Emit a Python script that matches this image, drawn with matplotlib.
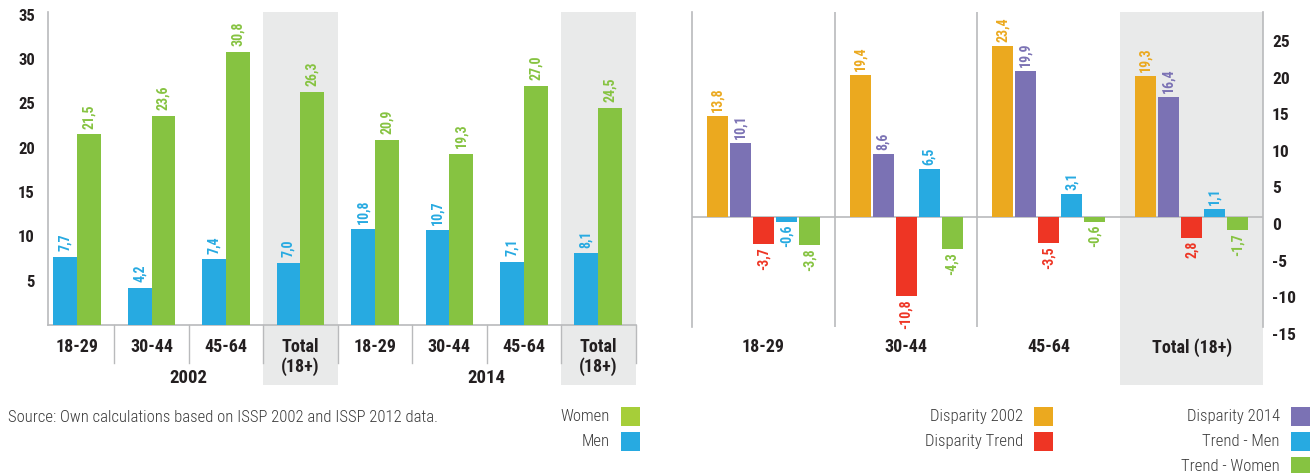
import numpy as np
import matplotlib
matplotlib.use("Agg")
import matplotlib.pyplot as plt
from matplotlib.patches import Rectangle
from matplotlib.transforms import blended_transform_factory, ScaledTranslation

plt.rcParams['font.family'] = ['Roboto Condensed', 'DejaVu Sans']

# ---- left panel: share by age group, 2002 vs 2014 ----
age_groups = ["18-29", "30-44", "45-64", "Total\n(18+)"]
years = ["2002", "2014"]
men_2002 = [7.7, 4.2, 7.4, 7.0]
women_2002 = [21.5, 23.6, 30.8, 26.3]
men_2014 = [10.8, 10.7, 7.1, 8.1]
women_2014 = [20.9, 19.3, 27.0, 24.5]
left_ticks = [5, 10, 15, 20, 25, 30, 35]

# ---- right panel: disparities and trends ----
disp_groups = ["18-29", "30-44", "45-64", "Total (18+)"]
disparity_2002 = [13.8, 19.4, 23.4, 19.3]
disparity_2014 = [10.1, 8.6, 19.9, 16.4]
disparity_trend = [-3.7, -10.8, -3.5, -2.8]
disparity_trend_labels = ["-3,7", "-10,8", "-3,5", "2,8"]
trend_men = [-0.6, 6.5, 3.1, 1.1]
trend_women = [-3.8, -4.3, -0.6, -1.7]
right_ticks = [-15, -10, -5, 0, 5, 10, 15, 20, 25]

source_text = "Source: Own calculations based on ISSP 2002 and ISSP 2012 data."

BLUE = "#27AAE1"
GREEN = "#86C341"
WOMEN_KEY = "#A6CE39"
ORANGE = "#EBA91F"
PURPLE = "#7B72B4"
RED = "#EE3524"
SHADE = "#E9EAEA"
LINE = "#B9BABC"
INK = "#231F20"
SOFT = "#3A3A3A"

W, H = 1311, 473
fig = plt.figure(figsize=(W / 100, H / 100), dpi=100)


def axes_px(x0, x1, ytop, ybot):
    return fig.add_axes([x0 / W, 1 - ybot / H, (x1 - x0) / W, (ybot - ytop) / H])


def fmt(v):
    return f"{v:.1f}".replace(".", ",")


def value_label(ax, x, v, text, color, up_pad=4.0, down_pad=2.5):
    if v >= 0:
        ax.annotate(text, xy=(x, v), xytext=(0, up_pad), textcoords="offset points",
                    rotation=90, ha="center", va="bottom", color=color,
                    fontsize=10, fontweight="bold")
    else:
        ax.annotate(text, xy=(x, v), xytext=(0, -down_pad), textcoords="offset points",
                    rotation=90, ha="center", va="top", color=color,
                    fontsize=10, fontweight="bold")


# ================= left panel =================
ax1 = axes_px(48, 635.5, 12, 325)
ax1.set_facecolor("none")
men = men_2002 + men_2014
women = women_2002 + women_2014
labels_x = age_groups + age_groups
x = np.arange(len(men))
bw = 0.32
ax1.set_xlim(-0.39, 7.5)
ax1.set_ylim(0, 35.3)
bt1 = blended_transform_factory(ax1.transData, ax1.transAxes)
below1 = 60 / 313

for xi in (3, 7):
    ax1.add_patch(Rectangle((xi - 0.5, -below1), 1, 1 + below1, transform=bt1,
                            facecolor=SHADE, edgecolor="none", zorder=0, clip_on=False))

ax1.bar(x - bw / 2, men, bw, color=BLUE, zorder=3)
ax1.bar(x + bw / 2, women, bw, color=GREEN, zorder=3)
for xi, m, w in zip(x, men, women):
    value_label(ax1, xi - bw / 2, m, fmt(m), BLUE)
    value_label(ax1, xi + bw / 2, w, fmt(w), GREEN)

for b in np.arange(0.5, 8, 1):
    ax1.plot([b, b], [0, -38 / 313], transform=bt1, color=LINE, lw=1, clip_on=False)

for xi, lab in zip(x, labels_x):
    ax1.annotate(lab, xy=(xi, 0), xycoords=bt1, xytext=(0, -9), textcoords="offset points",
                 ha="center", va="top", fontsize=13, fontweight="bold", color=INK,
                 linespacing=1.1)
for xc, yr in zip((1.5, 5.5), years):
    ax1.annotate(yr, xy=(xc, 0), xycoords=bt1, xytext=(0, -38), textcoords="offset points",
                 ha="center", va="center", fontsize=13.5, fontweight="bold", color=INK)

ax1.set_xticks([])
ax1.set_yticks(left_ticks)
ax1.set_yticklabels([str(t) for t in left_ticks])
ax1.tick_params(axis="y", length=0, pad=9.5, labelsize=12, labelcolor=INK)
for lab in ax1.get_yticklabels():
    lab.set_fontweight("bold")
for s in ("top", "right"):
    ax1.spines[s].set_visible(False)
for s in ("left", "bottom"):
    ax1.spines[s].set_color(LINE)
    ax1.spines[s].set_linewidth(1.2)

# ================= right panel =================
ax2 = axes_px(692, 1263, 12, 327)
ax2.set_facecolor("none")
ax2.set_xlim(-0.5, 3.5)
ax2.set_ylim(-15, 28)
bt2 = blended_transform_factory(ax2.transData, ax2.transAxes)
below2 = 58 / 315
ax2.add_patch(Rectangle((2.5, -below2), 1, 1 + below2, transform=bt2,
                        facecolor=SHADE, edgecolor="none", zorder=0, clip_on=False))

series = [
    (disparity_2002, ORANGE, [fmt(v) for v in disparity_2002]),
    (disparity_2014, PURPLE, [fmt(v) for v in disparity_2014]),
    (disparity_trend, RED, disparity_trend_labels),
    (trend_men, BLUE, [fmt(v) for v in trend_men]),
    (trend_women, GREEN, [fmt(v) for v in trend_women]),
]
gx = np.arange(len(disp_groups))
step = 0.161
bw2 = 0.147
ax2.axhline(0, color=LINE, lw=1.2, zorder=2)
for i, (vals, col, texts) in enumerate(series):
    xs = gx + (i - 2) * step
    ax2.bar(xs, vals, bw2, color=col, zorder=3)
    for xx, v, t in zip(xs, vals, texts):
        value_label(ax2, xx, v, t, col, up_pad=3.0, down_pad=2.5)

for b in (0.5, 1.5):
    ax2.axvline(b, color=LINE, lw=1.2, zorder=1)

for xi, lab in zip(gx, disp_groups):
    ax2.annotate(lab, xy=(xi, 0), xycoords=bt2, xytext=(0, -8), textcoords="offset points",
                 ha="center", va="top", fontsize=13, fontweight="bold", color=INK)

ax2.set_xticks([])
ax2.yaxis.tick_right()
ax2.set_yticks(right_ticks)
ax2.set_yticklabels([str(t) for t in right_ticks])
ax2.tick_params(axis="y", length=0, pad=6.5, labelsize=12.5, labelcolor=INK)
shift = ScaledTranslation(0, -7 / 100, fig.dpi_scale_trans)
for lab in ax2.get_yticklabels():
    lab.set_fontweight("bold")
    lab.set_transform(lab.get_transform() + shift)
for s in ("top", "bottom"):
    ax2.spines[s].set_visible(False)
for s in ("left", "right"):
    ax2.spines[s].set_color(LINE)
    ax2.spines[s].set_linewidth(1.2)

# ================= keys and source =================
SQ = 19


def key(text, x_sq, y_top, color):
    fig.add_artist(Rectangle((x_sq / W, 1 - (y_top + SQ) / H), SQ / W, SQ / H,
                             transform=fig.transFigure, facecolor=color, edgecolor="none"))
    fig.text((x_sq - 11) / W, 1 - (y_top + SQ / 2) / H, text, ha="right", va="center",
             fontsize=12, color=SOFT, fontweight="light")


key("Women", 621, 407, WOMEN_KEY)
key("Men", 621, 432, BLUE)
key("Disparity 2002", 1034, 407, ORANGE)
key("Disparity Trend", 1034, 432, RED)
key("Disparity 2014", 1291, 407, PURPLE)
key("Trend - Men", 1291, 432, BLUE)
key("Trend - Women", 1291, 457, GREEN)

fig.text(8 / W, 1 - 417 / H, source_text, ha="left", va="center", fontsize=12,
         color=SOFT, fontweight="light")

fig.savefig("out.png", dpi=100)
